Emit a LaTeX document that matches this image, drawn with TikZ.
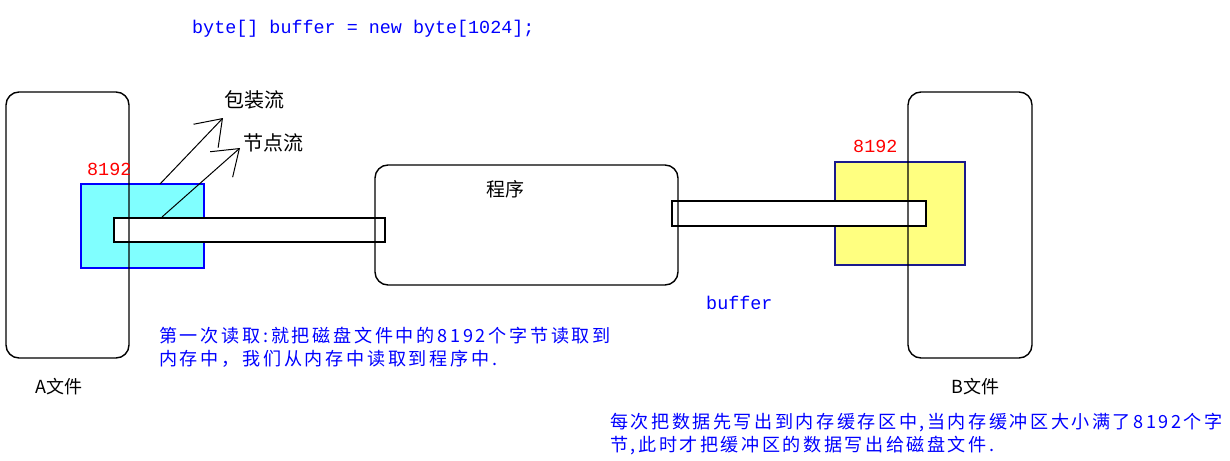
\documentclass[tikz,border=0pt]{standalone}
\usepackage{fontspec}
\setmainfont{Liberation Sans}
\newfontfamily\cjk{Noto Sans CJK SC}
\newfontfamily\cjksp[LetterSpace=15]{Noto Sans CJK SC}
\newfontfamily\cjkspw[LetterSpace=14]{Noto Sans CJK SC}
\newfontfamily\monof{Liberation Mono}
\usetikzlibrary{arrows.meta}
\definecolor{cyanfill}{HTML}{80FFFF}
\definecolor{yellowfill}{HTML}{FFFF80}
\definecolor{pureblue}{HTML}{0000FF}
\definecolor{navyline}{HTML}{1A1A8C}
\definecolor{purered}{HTML}{FF0000}
\tikzset{
  filebox/.style={draw=black, line width=1.4pt, rounded corners=13pt, inner sep=0pt},
  bufbar/.style={draw=black, fill=white, line width=1.4pt, inner sep=0pt},
  cache/.style={line width=1.3pt, inner sep=0pt},
  codetxt/.style={text=pureblue, font=\monof\fontsize{18.4}{20}\selectfont, inner sep=0pt, anchor=base west},
  redtxt/.style={text=purered, font=\monof\fontsize{18.4}{20}\selectfont, inner sep=0pt, anchor=base west},
  labtxt/.style={text=black, font=\cjk\fontsize{19}{22}\selectfont, inner sep=0pt, anchor=base west},
  bluetxt/.style={text=pureblue, font=\cjksp\fontsize{18.1}{22}\selectfont, inner sep=0pt, anchor=base west},
  bluetxtw/.style={text=pureblue, font=\cjkspw\fontsize{18.1}{22}\selectfont, inner sep=0pt, anchor=base west},
  ptr/.style={draw=black, line width=1pt, -{Straight Barb[length=24pt,width=34pt,line width=1pt]}}
}
\begin{document}
\begin{tikzpicture}[x=1pt,y=-1pt]
\useasboundingbox (0,0) rectangle (1230,460);
% caches
\node[cache, draw=pureblue, fill=cyanfill, minimum width=123pt, minimum height=84pt] (cyanbuf) at (142.5,226) {};
\node[cache, draw=navyline, fill=yellowfill, minimum width=130pt, minimum height=103pt] (yellowbuf) at (900,213.5) {};
% buffer bars
\node[bufbar, minimum width=271pt, minimum height=24pt] (barL) at (249.5,230) {};
\node[bufbar, minimum width=254pt, minimum height=25pt] (barR) at (799,213.5) {};
% big boxes
\node[filebox, minimum width=123pt, minimum height=266pt] (afile) at (67.5,225) {};
\node[filebox, minimum width=124pt, minimum height=266pt] (bfile) at (970,225) {};
\node[filebox, minimum width=303pt, minimum height=120pt] (prog) at (526.5,225) {};
% texts
\node[codetxt] (code) at (192,34) {byte[] buffer = new byte[1024];};
\node[labtxt, font=\cjk\fontsize{20}{22}\selectfont] (wrap) at (224,107) {包装流};
\node[labtxt, font=\cjk\fontsize{20}{22}\selectfont] (node) at (243,150) {节点流};
\node[redtxt] (numA) at (87,175) {8192};
\node[redtxt] (numB) at (853,152) {8192};
\node[labtxt] (progtxt) at (486,196) {程序};
\node[codetxt] (buftxt) at (706,309) {buffer};
\node[labtxt, font=\cjk\fontsize{18}{22}\selectfont] (alab) at (35,393) {A文件};
\node[labtxt, font=\cjk\fontsize{18}{22}\selectfont] (blab) at (951,393) {B文件};
\node[bluetxt] (read1) at (159,342) {第一次读取:就把磁盘文件中的8192个字节读取到};
\node[bluetxt] (read2) at (159,365) {内存中，我们从内存中读取到程序中.};
\node[bluetxtw] (write1) at (610,428) {每次把数据先写出到内存缓存区中,当内存缓冲区大小满了8192个字};
\node[bluetxtw] (write2) at (610,451) {节,此时才把缓冲区的数据写出给磁盘文件.};
% pointers
\coordinate (s1) at (160,184);
\coordinate (t1) at (223,118);
\coordinate (s2) at (162,217);
\coordinate (t2) at (240,148);
\draw[ptr] (s1) -- (t1);
\draw[ptr] (s2) -- (t2);
\end{tikzpicture}
\end{document}
